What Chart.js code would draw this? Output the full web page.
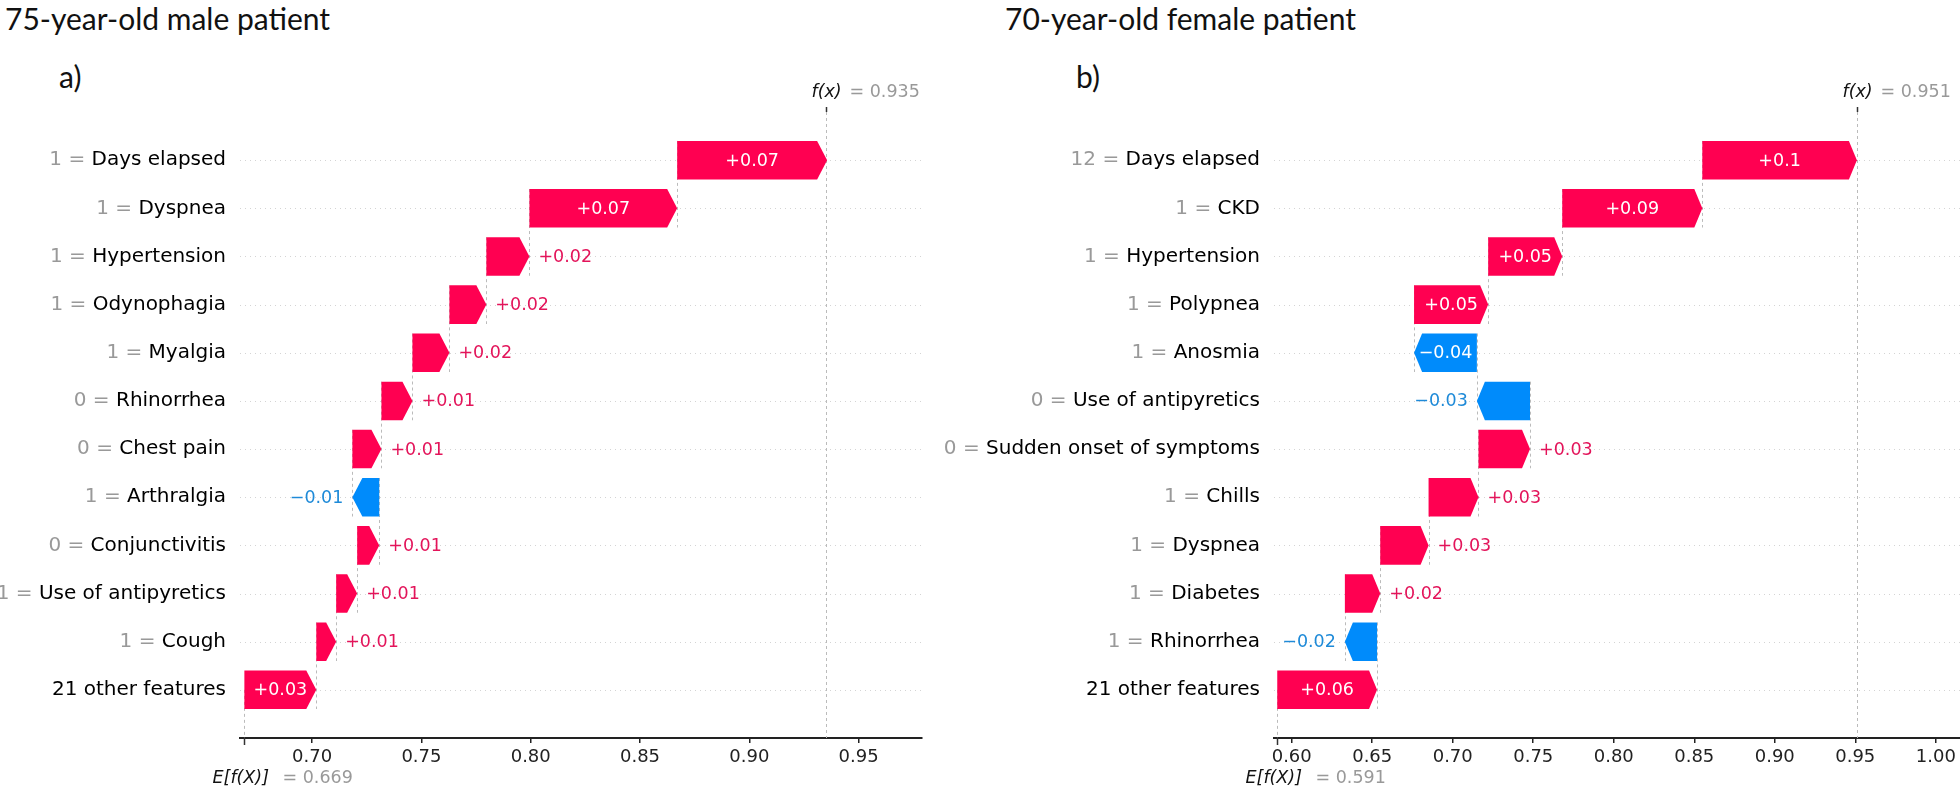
<!DOCTYPE html>
<html>
<head>
<meta charset="utf-8">
<script src="https://cdn.jsdelivr.net/npm/chart.js@4.4.1/dist/chart.umd.min.js"></script>
<style>
  html, body { margin: 0; padding: 0; background: #fff; }
  body { width: 1960px; height: 788px; position: relative; overflow: hidden; }
  .title { position: absolute; font-family: Lato, "Open Sans", sans-serif; color: #111; white-space: nowrap; line-height: 1; }
  .panel { position: absolute; top: 0; height: 788px; }
</style>
</head>
<body>
<div class="title" style="left:5px;top:3px;font-size:30px">75-year-old male patient</div>
<div class="title" style="left:1005px;top:3px;font-size:30px">70-year-old female patient</div>
<div class="title" style="left:59px;top:61px;font-size:30px">a)</div>
<div class="title" style="left:1076px;top:61px;font-size:30px">b)</div>
<div class="panel" style="left:0;width:980px"><canvas id="chartA"></canvas></div>
<div class="panel" style="left:880px;width:1100px"><canvas id="chartB"></canvas></div>

<script>
// panel a) 75-year-old male patient (top row first)
const featuresA = ["Days elapsed", "Dyspnea", "Hypertension", "Odynophagia", "Myalgia", "Rhinorrhea",
  "Chest pain", "Arthralgia", "Conjunctivitis", "Use of antipyretics", "Cough", "21 other features"];
const featureValsA = ["1", "1", "1", "1", "1", "0", "0", "1", "0", "1", "1", ""];
const shapA = [0.0686, 0.0676, 0.0197, 0.0169, 0.0169, 0.0142, 0.0133, -0.0123, 0.0101, 0.0096, 0.0091, 0.0329];
const baseA = 0.669;
const fxA = 0.935;
const ticksA = [0.70, 0.75, 0.80, 0.85, 0.90, 0.95];

// panel b) 70-year-old female patient
const featuresB = ["Days elapsed", "CKD", "Hypertension", "Polypnea", "Anosmia", "Use of antipyretics",
  "Sudden onset of symptoms", "Chills", "Dyspnea", "Diabetes", "Rhinorrhea", "21 other features"];
const featureValsB = ["12", "1", "1", "1", "1", "0", "0", "1", "1", "1", "1", ""];
const shapB = [0.096, 0.087, 0.046, 0.046, -0.039, -0.033, 0.032, 0.031, 0.030, 0.022, -0.020, 0.062];
const baseB = 0.591;
const fxB = 0.951;
const ticksB = [0.60, 0.65, 0.70, 0.75, 0.80, 0.85, 0.90, 0.95, 1.00];

const RED = "#ff0051", BLUE = "#008bfb";
const RED_TXT = "#e3145a", BLUE_TXT = "#1e8ad8";
const FONT = '"DejaVu Sans", sans-serif';
const LABEL_PX = 20, VALUE_PX = 17.5, TICK_PX = 18;

// same style as shap: 2 decimals, trailing zeros dropped
function fmt(v) {
  let s = Math.abs(v).toFixed(2).replace(/0+$/, "").replace(/\.$/, "");
  return (v < 0 ? "\u2212" : "+") + s;
}

// bars stack from the base value at the bottom row upwards
function buildSpans(shap, base) {
  const out = new Array(shap.length);
  let cur = base;
  for (let i = shap.length - 1; i >= 0; i--) {
    out[i] = [cur, cur + shap[i]];
    cur += shap[i];
  }
  return out;
}

function waterfallPlugin(cfg) {
  return {
    id: "waterfall" + cfg.key,
    beforeDatasetsDraw(chart) {
      const { ctx, chartArea: a, scales: { x, y } } = chart;
      ctx.save();
      ctx.lineWidth = 1;
      // dotted row guides
      ctx.strokeStyle = "#d4d4d4";
      ctx.setLineDash([1, 4]);
      cfg.shap.forEach((_, i) => {
        const py = Math.round(y.getPixelForValue(i)) + 0.5;
        ctx.beginPath(); ctx.moveTo(a.left, py); ctx.lineTo(a.right, py); ctx.stroke();
      });
      // connectors between bars
      ctx.strokeStyle = "#bbbbbb";
      ctx.setLineDash([3, 3]);
      for (let i = 0; i < cfg.spans.length - 1; i++) {
        const px = Math.round(x.getPixelForValue(cfg.spans[i][0])) + 0.5;
        ctx.beginPath();
        ctx.moveTo(px, y.getPixelForValue(i - 0.4));
        ctx.lineTo(px, y.getPixelForValue(i + 1.4));
        ctx.stroke();
      }
      // f(x) line, full height
      const fxp = Math.round(x.getPixelForValue(cfg.fx)) + 0.5;
      ctx.beginPath(); ctx.moveTo(fxp, a.top); ctx.lineTo(fxp, a.bottom); ctx.stroke();
      // E[f(X)] line, from the last bar to the axis
      const bp = Math.round(x.getPixelForValue(cfg.base)) + 0.5;
      ctx.beginPath(); ctx.moveTo(bp, y.getPixelForValue(cfg.shap.length - 1)); ctx.lineTo(bp, a.bottom); ctx.stroke();
      ctx.restore();
    },
    afterDatasetsDraw(chart) {
      const { ctx, scales: { y } } = chart;
      const meta = chart.getDatasetMeta(0);
      ctx.save();
      ctx.font = VALUE_PX + "px " + FONT;
      ctx.textBaseline = "middle";
      meta.data.forEach((el, i) => {
        const v = cfg.shap[i];
        const lo = Math.min(el.x, el.base), hi = Math.max(el.x, el.base);
        const cy = el.y;
        const h = (y.getPixelForValue(i + 0.4) - y.getPixelForValue(i - 0.4)) / 2;
        const w = hi - lo;
        const hl = Math.min(cfg.head, w);
        ctx.fillStyle = v >= 0 ? RED : BLUE;
        ctx.beginPath();
        if (v >= 0) {
          ctx.moveTo(lo, cy - h); ctx.lineTo(hi - hl, cy - h); ctx.lineTo(hi, cy);
          ctx.lineTo(hi - hl, cy + h); ctx.lineTo(lo, cy + h);
        } else {
          ctx.moveTo(hi, cy - h); ctx.lineTo(lo + hl, cy - h); ctx.lineTo(lo, cy);
          ctx.lineTo(lo + hl, cy + h); ctx.lineTo(hi, cy + h);
        }
        ctx.closePath();
        ctx.fill();

        const txt = fmt(v);
        const tw = ctx.measureText(txt).width;
        if (tw + 2 < w) {
          ctx.fillStyle = "#fff"; ctx.textAlign = "center";
          ctx.fillText(txt, (lo + hi) / 2, cy + 1);
        } else if (v >= 0) {
          ctx.fillStyle = RED_TXT; ctx.textAlign = "left";
          ctx.fillText(txt, hi + 9, cy + 1);
        } else {
          ctx.fillStyle = BLUE_TXT; ctx.textAlign = "right";
          ctx.fillText(txt, lo - 9, cy + 1);
        }
      });
      ctx.restore();
    },
    afterDraw(chart) {
      const { ctx, chartArea: a, scales: { x, y } } = chart;
      ctx.save();
      // row labels: grey feature value, black feature name
      ctx.font = LABEL_PX + "px " + FONT;
      ctx.textBaseline = "middle";
      ctx.textAlign = "right";
      const xr = a.left - 14;
      cfg.features.forEach((name, i) => {
        const py = y.getPixelForValue(i);
        ctx.fillStyle = "#000";
        ctx.fillText(name, xr, py);
        if (cfg.vals[i] !== "") {
          const nw = ctx.measureText(name).width;
          ctx.fillStyle = "#999";
          ctx.fillText(cfg.vals[i] + " = ", xr - nw, py);
        }
      });

      ctx.strokeStyle = "#333";
      ctx.lineWidth = 1.5;
      ctx.textAlign = "left";
      // f(x) on top
      const fxp = Math.round(x.getPixelForValue(cfg.fx)) + 0.5;
      ctx.beginPath(); ctx.moveTo(fxp, a.top); ctx.lineTo(fxp, a.top - 5); ctx.stroke();
      ctx.font = "italic " + VALUE_PX + "px " + FONT;
      ctx.fillStyle = "#111";
      ctx.fillText("f(x)", fxp - 15, a.top - 20);
      ctx.font = VALUE_PX + "px " + FONT;
      ctx.fillStyle = "#999";
      ctx.fillText("= " + cfg.fx.toFixed(3), fxp + 23, a.top - 20);

      // E[f(X)] under the axis
      const bp = Math.round(x.getPixelForValue(cfg.base)) + 0.5;
      ctx.beginPath(); ctx.moveTo(bp, a.bottom); ctx.lineTo(bp, a.bottom + 7); ctx.stroke();
      ctx.font = "italic " + VALUE_PX + "px " + FONT;
      ctx.fillStyle = "#111";
      ctx.fillText("E[f(X)]", bp - 32, a.bottom + 40);
      ctx.font = VALUE_PX + "px " + FONT;
      ctx.fillStyle = "#999";
      ctx.fillText("= " + cfg.base.toFixed(3), bp + 38, a.bottom + 40);
      ctx.restore();
    }
  };
}

function makeChart(id, cfg) {
  cfg.spans = buildSpans(cfg.shap, cfg.base);
  const data = cfg.spans.map((s, i) => ({ x: s, y: i }));
  return new Chart(document.getElementById(id), {
    type: "bar",
    data: {
      datasets: [{
        data: data,
        backgroundColor: "rgba(0,0,0,0)",
        borderWidth: 0,
        barPercentage: 1,
        categoryPercentage: 0.8
      }]
    },
    options: {
      indexAxis: "y",
      responsive: true,
      maintainAspectRatio: false,
      animation: false,
      layout: { padding: cfg.padding },
      plugins: { legend: { display: false }, tooltip: { enabled: false } },
      scales: {
        y: { type: "linear", reverse: true, min: -1, max: 12, offset: false, grace: 0, display: false },
        x: {
          type: "linear",
          min: cfg.min,
          max: cfg.max,
          afterBuildTicks: ax => { ax.ticks = cfg.ticks.map(v => ({ value: v })); },
          afterFit: ax => { ax.height = 50; },
          ticks: {
            font: { family: FONT, size: TICK_PX },
            color: "#222",
            padding: 4,
            maxRotation: 0,
            autoSkip: false,
            callback: v => Number(v).toFixed(2)
          },
          grid: { display: true, drawOnChartArea: false, drawTicks: true, tickLength: 5, color: "#222", lineWidth: 1.5 },
          border: { display: true, color: "#222", width: 2 }
        }
      }
    },
    plugins: [waterfallPlugin(cfg)]
  });
}

makeChart("chartA", {
  key: "A", features: featuresA, vals: featureValsA, shap: shapA, base: baseA, fx: fxA,
  ticks: ticksA, min: 0.667, max: 0.979, head: 10,
  padding: { left: 240, right: 58, top: 112, bottom: 0 }
});
makeChart("chartB", {
  key: "B", features: featuresB, vals: featureValsB, shap: shapB, base: baseB, fx: fxB,
  ticks: ticksB, min: 0.589, max: 1.02, head: 8,
  padding: { left: 394, right: 12, top: 112, bottom: 0 }
});
</script>
</body>
</html>
